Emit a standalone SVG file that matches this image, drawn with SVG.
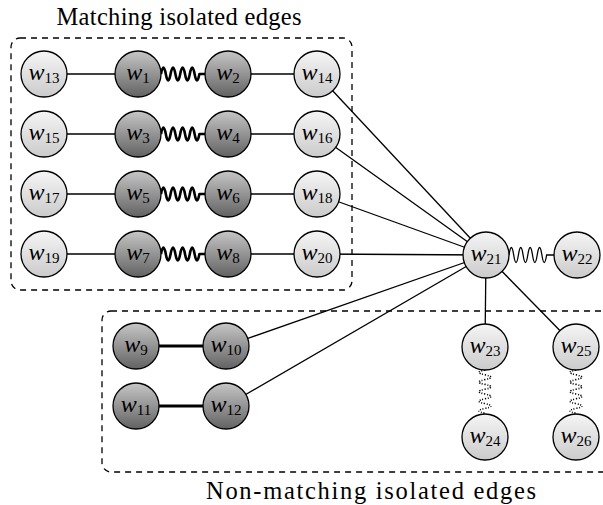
<svg xmlns="http://www.w3.org/2000/svg" width="603" height="505" viewBox="0 0 603 505">
  <defs>
    <linearGradient id="gLight" x1="0" y1="0" x2="0" y2="1">
      <stop offset="0" stop-color="#f5f5f5"/>
      <stop offset="1" stop-color="#cbcbcb"/>
    </linearGradient>
    <linearGradient id="gDark" x1="0" y1="0" x2="0" y2="1">
      <stop offset="0" stop-color="#c6c6c6"/>
      <stop offset="1" stop-color="#626262"/>
    </linearGradient>
    <!-- spring segment: 4 coils followed by a short straight tail -->
    <path id="coilH" d="M0,0 q2.4,-13 4.8,0 q2.4,13 4.8,0 q2.4,-13 4.8,0 q2.4,13 4.8,0 q2.4,-13 4.8,0 q2.4,13 4.8,0 q2.4,-13 4.8,0 q2.4,13 4.8,0 L44,0"/>
  </defs>
  <style>
    .light { fill: url(#gLight); stroke: #000; stroke-width: 1.3; }
    .dark { fill: url(#gDark); stroke: #000; stroke-width: 1.3; }
    .edge { stroke: #000; stroke-width: 1.3; fill: none; }
    .thick { stroke: #000; stroke-width: 3; fill: none; }
    .spring { stroke: #000; stroke-width: 2.6; fill: none; stroke-linejoin: round; }
    .springThin { stroke: #000; stroke-width: 1.3; fill: none; }
    .springDot { stroke: #000; stroke-width: 1.6; fill: none; stroke-dasharray: 1 1.6; }
    .box { fill: none; stroke: #000; stroke-width: 1.3; stroke-dasharray: 6 5; }
    .lbl { font-family: "Liberation Serif", "DejaVu Serif", serif; font-size: 24.5px; fill: #000; text-anchor: middle; }
    .nt { font-family: "Liberation Serif", "DejaVu Serif", serif; font-style: italic; font-size: 24px; fill: #000; text-anchor: middle; }
    .nt tspan { font-style: normal; font-size: 15px; }
  </style>

  <!-- grouping boxes -->
  <g id="groups">
    <rect class="box" x="11" y="38" width="341" height="252" rx="9"/>
    <rect class="box" x="102" y="311" width="520" height="161" rx="9"/>
    <text class="lbl" x="179" y="25" textLength="245" lengthAdjust="spacing">Matching isolated edges</text>
    <text class="lbl" x="371" y="499" textLength="330" lengthAdjust="spacing">Non-matching isolated edges</text>
  </g>

  <!-- connectors -->
  <g id="connectors">
    <line class="edge" x1="44" y1="74" x2="138" y2="74"/>
    <line class="edge" x1="228" y1="74" x2="317" y2="74"/>
    <line class="edge" x1="44" y1="134" x2="138" y2="134"/>
    <line class="edge" x1="228" y1="134" x2="317" y2="134"/>
    <line class="edge" x1="44" y1="194" x2="138" y2="194"/>
    <line class="edge" x1="228" y1="194" x2="317" y2="194"/>
    <line class="edge" x1="44" y1="254" x2="138" y2="254"/>
    <line class="edge" x1="228" y1="254" x2="317" y2="254"/>

    <use href="#coilH" class="spring" x="161" y="74"/>
    <use href="#coilH" class="spring" x="161" y="134"/>
    <use href="#coilH" class="spring" x="161" y="194"/>
    <use href="#coilH" class="spring" x="161" y="254"/>

    <line class="thick" x1="136" y1="346" x2="226" y2="346"/>
    <line class="thick" x1="136" y1="406" x2="226" y2="406"/>

    <line class="edge" x1="486" y1="255" x2="317" y2="74"/>
    <line class="edge" x1="486" y1="255" x2="317" y2="134"/>
    <line class="edge" x1="486" y1="255" x2="317" y2="194"/>
    <line class="edge" x1="486" y1="255" x2="317" y2="254"/>
    <line class="edge" x1="486" y1="255" x2="226" y2="346"/>
    <line class="edge" x1="486" y1="255" x2="226" y2="406"/>
    <line class="edge" x1="486" y1="255" x2="485" y2="347"/>
    <line class="edge" x1="486" y1="255" x2="576" y2="347"/>

    <path class="springThin" d="M509,255 q2.35,-15 4.7,0 q2.35,15 4.7,0 q2.35,-15 4.7,0 q2.35,15 4.7,0 q2.35,-15 4.7,0 q2.35,15 4.7,0 q2.35,-15 4.7,0 q2.35,15 4.7,0 L555,255"/>

    <path class="springDot" d="M485,370 q-12,2.4 0,4.8 q12,2.4 0,4.8 q-12,2.4 0,4.8 q12,2.4 0,4.8 q-12,2.4 0,4.8 q12,2.4 0,4.8 q-12,2.4 0,4.8 q12,2.4 0,4.8 q-12,2.4 0,4.8 L485,414"/>
    <path class="springDot" d="M576,370 q-12,2.4 0,4.8 q12,2.4 0,4.8 q-12,2.4 0,4.8 q12,2.4 0,4.8 q-12,2.4 0,4.8 q12,2.4 0,4.8 q-12,2.4 0,4.8 q12,2.4 0,4.8 q-12,2.4 0,4.8 L576,414"/>
  </g>

  <!-- nodes -->
  <g id="w13"><circle class="light" cx="44" cy="74" r="23"/><text class="nt" x="44" y="80">w<tspan dy="3">13</tspan></text></g>
  <g id="w1"><circle class="dark" cx="138" cy="74" r="23"/><text class="nt" x="138" y="80">w<tspan dy="3">1</tspan></text></g>
  <g id="w2"><circle class="dark" cx="228" cy="74" r="23"/><text class="nt" x="228" y="80">w<tspan dy="3">2</tspan></text></g>
  <g id="w14"><circle class="light" cx="317" cy="74" r="23"/><text class="nt" x="317" y="80">w<tspan dy="3">14</tspan></text></g>

  <g id="w15"><circle class="light" cx="44" cy="134" r="23"/><text class="nt" x="44" y="140">w<tspan dy="3">15</tspan></text></g>
  <g id="w3"><circle class="dark" cx="138" cy="134" r="23"/><text class="nt" x="138" y="140">w<tspan dy="3">3</tspan></text></g>
  <g id="w4"><circle class="dark" cx="228" cy="134" r="23"/><text class="nt" x="228" y="140">w<tspan dy="3">4</tspan></text></g>
  <g id="w16"><circle class="light" cx="317" cy="134" r="23"/><text class="nt" x="317" y="140">w<tspan dy="3">16</tspan></text></g>

  <g id="w17"><circle class="light" cx="44" cy="194" r="23"/><text class="nt" x="44" y="200">w<tspan dy="3">17</tspan></text></g>
  <g id="w5"><circle class="dark" cx="138" cy="194" r="23"/><text class="nt" x="138" y="200">w<tspan dy="3">5</tspan></text></g>
  <g id="w6"><circle class="dark" cx="228" cy="194" r="23"/><text class="nt" x="228" y="200">w<tspan dy="3">6</tspan></text></g>
  <g id="w18"><circle class="light" cx="317" cy="194" r="23"/><text class="nt" x="317" y="200">w<tspan dy="3">18</tspan></text></g>

  <g id="w19"><circle class="light" cx="44" cy="254" r="23"/><text class="nt" x="44" y="260">w<tspan dy="3">19</tspan></text></g>
  <g id="w7"><circle class="dark" cx="138" cy="254" r="23"/><text class="nt" x="138" y="260">w<tspan dy="3">7</tspan></text></g>
  <g id="w8"><circle class="dark" cx="228" cy="254" r="23"/><text class="nt" x="228" y="260">w<tspan dy="3">8</tspan></text></g>
  <g id="w20"><circle class="light" cx="317" cy="254" r="23"/><text class="nt" x="317" y="260">w<tspan dy="3">20</tspan></text></g>

  <g id="w21"><circle class="light" cx="486" cy="255" r="23"/><text class="nt" x="486" y="261">w<tspan dy="3">21</tspan></text></g>
  <g id="w22"><circle class="light" cx="577" cy="255" r="23"/><text class="nt" x="577" y="261">w<tspan dy="3">22</tspan></text></g>

  <g id="w9"><circle class="dark" cx="136" cy="346" r="23"/><text class="nt" x="136" y="352">w<tspan dy="3">9</tspan></text></g>
  <g id="w10"><circle class="dark" cx="226" cy="346" r="23"/><text class="nt" x="226" y="352">w<tspan dy="3">10</tspan></text></g>
  <g id="w11"><circle class="dark" cx="136" cy="406" r="23"/><text class="nt" x="136" y="412">w<tspan dy="3">11</tspan></text></g>
  <g id="w12"><circle class="dark" cx="226" cy="406" r="23"/><text class="nt" x="226" y="412">w<tspan dy="3">12</tspan></text></g>

  <g id="w23"><circle class="light" cx="485" cy="347" r="23"/><text class="nt" x="485" y="353">w<tspan dy="3">23</tspan></text></g>
  <g id="w24"><circle class="light" cx="485" cy="437" r="23"/><text class="nt" x="485" y="443">w<tspan dy="3">24</tspan></text></g>
  <g id="w25"><circle class="light" cx="576" cy="347" r="23"/><text class="nt" x="576" y="353">w<tspan dy="3">25</tspan></text></g>
  <g id="w26"><circle class="light" cx="576" cy="437" r="23"/><text class="nt" x="576" y="443">w<tspan dy="3">26</tspan></text></g>
</svg>
